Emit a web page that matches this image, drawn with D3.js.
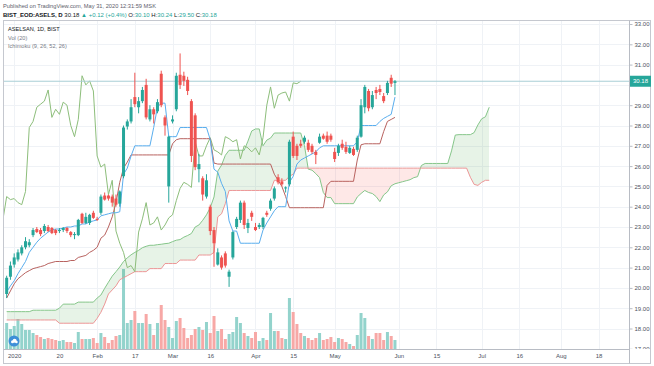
<!DOCTYPE html>
<html>
<head>
<meta charset="utf-8">
<title>ASELS 1D</title>
<script src="https://d3js.org/d3.v7.min.js"></script>
<style>
 html, body { margin: 0; background: #ffffff; }
 svg text { font-family: "Liberation Sans", Arial, sans-serif; }
</style>
</head>
<body>
<svg id="chart" width="654" height="366"></svg>
<script>
// bar index of the first candle (Dec 30 2019 = -2, Jan 2 2020 = 0)
const firstIdx = -2;

// [open, high, low, close]
const candles = [
  [19.7,20.6,19.5,20.5],[20.55,21.3,20.4,21.1],[21.15,21.7,21.0,21.5],[21.4,21.9,21.3,21.75],
  [21.7,22.1,21.6,22.0],[22.0,22.5,21.9,22.3],[22.1,22.4,22.0,22.25],[22.6,22.95,22.5,22.85],
  [22.9,23.0,22.7,22.75],[22.85,22.95,22.55,22.65],[22.8,23.15,22.7,23.05],[23.0,23.1,22.75,22.8],
  [22.95,23.0,22.65,22.7],[22.85,22.9,22.6,22.7],[22.8,22.95,22.7,22.85],[22.85,23.0,22.75,22.95],
  [22.95,23.0,22.7,22.8],[22.75,22.8,22.5,22.6],[22.6,22.75,22.4,22.65],[22.6,23.4,22.55,23.35],
  [23.65,23.7,23.15,23.2],[23.2,23.7,23.15,23.5],[23.2,23.65,23.1,23.6],[23.7,23.8,23.4,23.45],
  [23.4,23.5,23.3,23.35],[23.7,24.6,23.6,24.5],[24.55,24.7,24.3,24.35],[24.55,24.6,24.3,24.4],
  [24.5,24.6,24.0,24.2],[24.4,24.6,24.0,24.1],[24.15,24.8,24.0,24.75],[25.5,28.0,25.4,27.9],
  [27.95,28.3,27.8,28.2],[28.2,29.3,28.1,28.9],[29.4,30.6,28.9,29.05],[28.9,29.4,28.6,29.2],
  [29.2,29.9,29.1,29.75],[30.0,30.3,28.3,28.4],[28.3,29.0,28.2,28.8],[28.8,28.9,28.1,28.55],
  [28.7,29.3,28.6,29.15],[30.55,30.7,28.9,29.0],[28.4,28.5,27.5,28.0],[25.0,27.5,24.2,27.45],
  [28.2,28.5,28.1,28.3],[28.8,30.6,28.7,30.45],[30.5,31.55,29.8,30.0],[30.45,30.65,29.95,30.2],
  [30.25,30.4,29.5,29.7],[29.2,29.3,26.2,26.5],[28.5,28.6,25.8,25.95],[25.85,26.6,25.2,26.1],
  [25.4,25.5,24.3,24.6],[24.5,25.6,24.4,25.3],[24.0,24.1,22.6,22.8],[22.85,23.0,21.04,22.2],
  [21.15,21.95,21.1,21.75],[21.5,21.6,20.9,21.0],[21.7,21.8,21.0,21.1],[20.55,20.9,20.05,20.8],
  [21.5,22.8,21.4,22.75],[23.0,23.5,22.9,23.4],[23.35,24.3,23.2,24.2],[24.2,24.3,22.9,23.1],
  [22.95,23.4,22.7,23.2],[23.7,23.8,23.3,23.5],[23.0,23.2,22.8,22.85],[23.0,23.2,22.9,23.1],
  [23.0,23.5,22.9,23.45],[23.7,23.8,23.5,23.6],[23.9,24.4,23.8,24.3],[24.4,25.0,24.3,24.9],
  [25.45,25.6,25.1,25.2],[25.25,25.4,25.0,25.1],[24.9,25.0,24.7,24.95],[25.1,27.3,25.0,27.2],
  [27.45,27.7,26.4,26.5],[27.0,27.1,26.3,26.5],[27.1,27.3,26.9,27.0],[27.2,27.5,27.1,27.4],
  [27.15,27.3,26.7,26.8],[27.0,27.1,26.6,26.7],[26.7,26.8,26.1,26.55],[27.15,27.6,27.1,27.45],
  [27.5,27.6,27.3,27.35],[27.5,27.7,27.1,27.2],[27.5,27.6,27.2,27.3],[26.7,26.9,26.2,26.35],
  [26.65,27.1,26.5,27.0],[27.1,27.3,26.8,26.9],[26.95,27.2,26.6,26.7],[26.65,27.0,26.6,26.9],
  [26.85,26.95,26.5,26.55],[26.8,27.5,26.7,27.4],[27.45,29.3,27.4,29.0],[28.9,30.0,28.6,29.9],
  [29.7,29.8,28.7,28.85],[28.9,29.7,28.8,29.5],[29.75,29.9,29.3,29.6],[29.8,30.0,29.5,29.65],
  [29.45,29.6,29.1,29.2],[29.6,30.2,29.5,30.1],[30.35,30.5,29.9,30.06],[30.10,30.24,29.50,30.18]
];

// volume, millions
const volume = [
  26,20,23,30,25,19,19,16,14,12,10,11,10,9,8,9,7,7,6,17,
  10,10,10,11,6,16,12,6,9,13,14,80,26,29,38,26,26,35,25,14,
  26,44,29,22,11,28,31,21,11,14,20,22,19,27,16,33,18,20,10,15,
  17,32,26,16,13,11,17,8,11,9,36,18,18,11,10,51,37,25,16,13,
  11,9,11,16,9,10,12,7,11,10,7,5,3,14,36,31,13,10,16,16,
  9,17,13,9
];

// Ichimoku (9, 26, 52, 26)
const tenkan = [
  19.8,20.1,20.35,20.7,21.0,21.3,21.75,22.0,22.25,22.45,22.6,22.75,22.85,22.9,22.9,22.95,
  23.0,23.0,23.05,23.05,23.15,23.15,23.25,23.3,23.35,23.55,23.6,23.65,23.7,23.7,23.75,
  25.6,25.9,26.5,27.0,27.0,27.0,27.0,27.0,27.9,28.9,29.1,29.1,27.45,27.45,27.45,
  27.9,27.9,27.9,27.9,27.9,27.9,27.9,27.9,27.3,25.85,25.7,25.15,24.75,23.3,22.8,22.8,
  22.2,22.2,22.2,22.2,22.2,22.2,22.85,23.2,23.5,23.8,24.0,24.0,24.0,
  25.2,25.5,26.1,26.3,26.4,26.5,26.6,26.7,26.9,
  27.0,27.0,27.0,27.0,27.0,27.0,27.0,27.0,27.0,27.2,28.0,28.0,28.0,28.0,28.0,
  28.2,28.35,28.45,28.55,29.4
];
const kijun = [
  19.5,19.85,20.2,20.45,20.6,20.75,20.85,20.95,21.0,21.05,21.1,21.2,21.25,21.3,21.3,21.3,
  21.3,21.35,21.35,21.5,21.55,21.6,21.75,21.85,22.0,22.45,22.6,23.0,23.5,24.2,25.2,25.9,
  26.2,26.55,26.55,26.55,26.55,26.55,26.55,26.55,26.55,26.55,26.55,26.55,27.1,27.3,
  27.35,27.35,27.35,27.35,27.35,27.35,27.35,27.35,27.35,26.15,
  26.1,26.1,26.1,26.1,26.1,26.1,26.1,26.1,26.1,26.1,26.1,26.1,26.1,26.1,26.1,
  25.6,25.3,25.0,24.5,23.95,23.95,23.95,23.95,23.95,23.95,23.95,23.95,23.95,23.95,
  25.05,25.25,25.25,25.25,25.25,25.25,25.25,25.25,26.3,27.05,27.1,27.1,27.1,27.1,27.1,
  27.7,28.2,28.3,28.4
];
// leading spans, already displaced forward (first value sits at bar -2)
const spanA = [
  18.83,18.83,18.83,18.83,18.83,18.83,18.83,18.9,18.9,18.9,18.9,18.9,18.9,18.9,
  19.0,19.2,19.2,19.2,19.2,19.3,19.3,19.3,19.3,19.3,19.5,
  19.65,19.98,20.28,20.58,20.8,21.03,21.3,21.48,21.63,21.75,21.85,21.98,22.05,22.1,22.1,
  22.13,22.15,22.18,22.2,22.28,22.35,22.38,22.5,22.58,22.68,23.0,23.1,23.33,23.6,23.95,
  24.48,25.75,26.05,26.53,26.78,26.78,26.78,26.78,26.78,27.23,27.73,27.83,27.83,27.0,
  27.28,27.38,27.63,27.63,27.63,27.63,27.63,27.63,27.63,27.63,27.0,25.85,25.8,25.63,
  25.43,24.7,24.45,24.45,24.15,24.15,24.15,24.15,24.15,24.15,24.48,24.65,24.8,24.7,
  24.65,24.5,24.25,24.58,24.73,25.03,25.13,25.18,25.23,25.28,25.33,25.43,25.48,26.03,
  26.13,26.13,26.13,26.13,26.13,26.13,26.13,26.75,27.53,27.55,27.55,27.55,27.55,27.65,
  28.03,28.33,28.43,28.9
];
const spanB = [
  18.42,18.42,18.42,18.42,18.42,18.42,18.42,18.42,18.42,18.42,18.42,18.42,18.42,18.42,
  18.26,18.26,18.26,18.26,18.26,18.26,18.26,18.26,18.26,18.26,
  18.5,18.8,19.2,19.7,19.9,20.1,20.4,20.5,20.6,20.7,20.8,20.8,20.8,20.8,
  20.95,20.95,20.95,20.95,21.2,21.2,21.2,21.2,21.37,21.37,21.37,21.37,21.37,
  21.62,21.62,21.62,21.62,21.75,23.5,23.65,24.15,
  24.8,24.8,24.8,24.8,24.8,24.8,24.8,24.8,24.8,24.8,24.8,24.8,
  25.3,25.3,25.3,25.3,25.5,25.6,
  25.9,25.9,25.9,25.9,25.9,25.9,25.9,25.9,25.9,25.9,25.9,25.9,25.9,25.9,25.9,25.9,
  25.9,25.9,25.9,25.9,25.9,25.9,25.9,25.9,25.9,25.9,25.9,25.9,25.9,25.9,25.9,25.9,
  25.9,25.9,25.9,25.9,25.9,25.9,25.9,25.9,25.9,25.9,25.9,25.9,25.9,25.9,
  25.45,25.1,25.05,25.2,25.3,25.3
];
const laggingShift = 25;   // close plotted 25 bars back

const priceTicks = [18,19,20,21,22,23,24,25,26,27,28,29,30,31,32,33];
const tickIdx  = [0, 12, 22, 32, 42, 52, 64, 74, 85, 102, 112, 124, 134, 145, 155];
const tickText = ["2020","20","Feb","17","Mar","16","Apr","15","May","Jun","15","Jul","16","Aug","18"];
const lastPrice = 30.18;

// colours
const up = "#26a69a", down = "#ef5350";
const upVol = "#93d3cc", downVol = "#f7a8a6";
const grid = "#eff2f6";
const axisText = "#4c525e";

// layout
const plot = {left: 4, right: 629, top: 21, bottom: 349};

const svg = d3.select("#chart");

const x = d3.scaleLinear().domain([-2, 101]).range([6.66, 394.97]);
const y = d3.scaleLinear().domain([17, 33]).range([348.8, 24]);
const yVol = d3.scaleLinear().domain([0, 80]).range([plot.bottom, 269]);

const defs = svg.append("defs");
defs.append("clipPath").attr("id", "plotClip")
  .append("rect")
  .attr("x", plot.left).attr("y", plot.top)
  .attr("width", plot.right - plot.left).attr("height", plot.bottom - plot.top);

// header
svg.append("text").attr("x", 3).attr("y", 8)
  .attr("font-size", 5.7).attr("fill", "#5d606b")
  .text("Published on TradingView.com, May 31, 2020 12:31:59 MSK");

const hdr = svg.append("text").attr("x", 3).attr("y", 17).attr("font-size", 6);
const hdrParts = [
  ["BIST_EOD:ASELS, D ", "#131722", "bold"],
  ["30.18 ", "#131722", "normal"],
  ["\u25B2 +0.12 (+0.4%) ", up, "normal"],
  ["O:", "#131722", "normal"], ["30.10 ", up, "normal"],
  ["H:", "#131722", "normal"], ["30.24 ", up, "normal"],
  ["L:", "#131722", "normal"], ["29.50 ", up, "normal"],
  ["C:", "#131722", "normal"], ["30.18", up, "normal"]
];
hdrParts.forEach(p => {
  hdr.append("tspan").attr("fill", p[1]).attr("font-weight", p[2]).text(p[0]);
});

// frame
svg.append("rect")
  .attr("x", 3.5).attr("y", 20.5).attr("width", 647).attr("height", 343)
  .attr("fill", "none").attr("stroke", "#c5c8cf");

// grid
svg.append("g").selectAll("line").data(priceTicks).join("line")
  .attr("x1", plot.left).attr("x2", plot.right)
  .attr("y1", d => Math.round(y(d)) + 0.5).attr("y2", d => Math.round(y(d)) + 0.5)
  .attr("stroke", grid);
svg.append("g").selectAll("line").data(tickIdx).join("line")
  .attr("x1", d => Math.round(x(d)) + 0.5).attr("x2", d => Math.round(x(d)) + 0.5)
  .attr("y1", plot.top).attr("y2", plot.bottom)
  .attr("stroke", grid);

const g = svg.append("g").attr("clip-path", "url(#plotClip)");

// volume
g.append("g").selectAll("rect").data(volume).join("rect")
  .attr("x", (d, k) => x(k + firstIdx) - 1.5)
  .attr("width", 3)
  .attr("y", d => yVol(d))
  .attr("height", d => plot.bottom - yVol(d))
  .attr("fill", (d, k) => candles[k][3] >= candles[k][0] ? upVol : downVol);

// cloud
const cloud = spanA.map((a, k) => ({i: k + firstIdx, a: a, b: spanB[k]}));
defs.append("clipPath").attr("id", "aboveB").append("path")
  .attr("d", d3.area().x(d => x(d.i)).y0(plot.top).y1(d => y(d.b))(cloud));
defs.append("clipPath").attr("id", "belowB").append("path")
  .attr("d", d3.area().x(d => x(d.i)).y0(d => y(d.b)).y1(plot.bottom)(cloud));
const cloudArea = d3.area().x(d => x(d.i)).y0(d => y(d.b)).y1(d => y(d.a));
g.append("g").attr("clip-path", "url(#aboveB)").append("path")
  .datum(cloud).attr("d", cloudArea).attr("fill", "rgba(67,160,71,0.13)");
g.append("g").attr("clip-path", "url(#belowB)").append("path")
  .datum(cloud).attr("d", cloudArea).attr("fill", "rgba(244,67,54,0.12)");

const line = key => d3.line().x(d => x(d.i)).y(d => y(d[key]));
g.append("path").datum(cloud).attr("d", line("a"))
  .attr("fill", "none").attr("stroke", "#86c68a").attr("stroke-width", 1);
g.append("path").datum(cloud).attr("d", line("b"))
  .attr("fill", "none").attr("stroke", "#ec9696").attr("stroke-width", 1);

// lagging span
const lagging = candles.map((c, k) => ({i: k + firstIdx - laggingShift, v: c[3]}));
g.append("path").datum(lagging).attr("d", line("v"))
  .attr("fill", "none").attr("stroke", "#8dbe7b").attr("stroke-width", 1);

// base and conversion lines
const baseData = kijun.map((v, k) => ({i: k + firstIdx, v: v}));
const convData = tenkan.map((v, k) => ({i: k + firstIdx, v: v}));
g.append("path").datum(baseData).attr("d", line("v"))
  .attr("fill", "none").attr("stroke", "#b8625f").attr("stroke-width", 1);
g.append("path").datum(convData).attr("d", line("v"))
  .attr("fill", "none").attr("stroke", "#5aaeee").attr("stroke-width", 1);

// last price line
g.append("line")
  .attr("x1", plot.left).attr("x2", plot.right)
  .attr("y1", y(lastPrice)).attr("y2", y(lastPrice))
  .attr("stroke", "#a9cfd6").attr("stroke-width", 1);

// candles
const cg = g.append("g").selectAll("g").data(candles).join("g");
cg.append("line")
  .attr("x1", (d, k) => x(k + firstIdx)).attr("x2", (d, k) => x(k + firstIdx))
  .attr("y1", d => y(d[1])).attr("y2", d => y(d[2]))
  .attr("stroke", d => d[3] >= d[0] ? up : down).attr("stroke-width", 1);
cg.append("rect")
  .attr("x", (d, k) => x(k + firstIdx) - 1.5)
  .attr("width", 3)
  .attr("y", d => y(Math.max(d[0], d[3])))
  .attr("height", d => Math.max(1, Math.abs(y(d[0]) - y(d[3]))))
  .attr("fill", d => d[3] >= d[0] ? up : down);

// price axis (the label under the last-price badge is hidden)
svg.append("line").attr("x1", plot.right + 0.5).attr("x2", plot.right + 0.5)
  .attr("y1", 20.5).attr("y2", 363.5).attr("stroke", "#b8bcc4");
defs.append("clipPath").attr("id", "axisClip").append("rect")
  .attr("x", plot.right).attr("y", plot.top).attr("width", 25).attr("height", plot.bottom - plot.top);
const shownTicks = [17].concat(priceTicks).filter(d => Math.abs(y(d) - y(lastPrice)) > 8);
const yAxis = svg.append("g").attr("clip-path", "url(#axisClip)")
  .append("g")
  .attr("transform", `translate(${plot.right + 0.5},0)`)
  .call(d3.axisRight(y).tickValues(shownTicks).tickFormat(d3.format(".2f"))
    .tickSize(3).tickPadding(2));
yAxis.select(".domain").remove();
yAxis.selectAll("line").attr("stroke", "#b8bcc4");
yAxis.selectAll("text").attr("font-size", 6).attr("fill", axisText)
  .attr("font-family", "Liberation Sans, Arial, sans-serif");

// last price badge
svg.append("rect")
  .attr("x", plot.right + 1).attr("y", y(lastPrice) - 5.5)
  .attr("width", 21).attr("height", 11).attr("fill", up);
svg.append("text")
  .attr("x", plot.right + 11.5).attr("y", y(lastPrice) + 2.2)
  .attr("text-anchor", "middle").attr("font-size", 6).attr("fill", "#ffffff")
  .text(d3.format(".2f")(lastPrice));

// time axis
svg.append("line").attr("x1", 3.5).attr("x2", plot.right + 0.5)
  .attr("y1", plot.bottom + 0.5).attr("y2", plot.bottom + 0.5).attr("stroke", "#b8bcc4");
const xAxis = svg.append("g")
  .attr("transform", `translate(0,${plot.bottom})`)
  .call(d3.axisBottom(x).tickValues(tickIdx).tickFormat((d, k) => tickText[k])
    .tickSize(0).tickPadding(5));
xAxis.select(".domain").remove();
xAxis.selectAll("text").attr("font-size", 6).attr("fill", axisText)
  .attr("font-family", "Liberation Sans, Arial, sans-serif");

// legend
svg.append("text").attr("x", 8).attr("y", 31).attr("font-size", 5.6)
  .attr("fill", "#131722").text("ASELSAN, 1D, BIST");
svg.append("text").attr("x", 8).attr("y", 39.5).attr("font-size", 5.6)
  .attr("fill", "#787b86").text("Vol (20)");
svg.append("text").attr("x", 8).attr("y", 48).attr("font-size", 5.6)
  .attr("fill", "#787b86").text("Ichimoku (9, 26, 52, 26)");

// logo badge
const logo = svg.append("g").attr("transform", "translate(14,341)");
logo.append("circle").attr("r", 5.5).attr("fill", "#3e8fd8");
logo.append("circle").attr("cx", -1.5).attr("cy", 0.8).attr("r", 1.5).attr("fill", "#ffffff");
logo.append("circle").attr("cx", 0.6).attr("cy", -0.2).attr("r", 2).attr("fill", "#ffffff");
logo.append("circle").attr("cx", 2.4).attr("cy", 1.0).attr("r", 1.3).attr("fill", "#ffffff");
</script>
</body>
</html>
